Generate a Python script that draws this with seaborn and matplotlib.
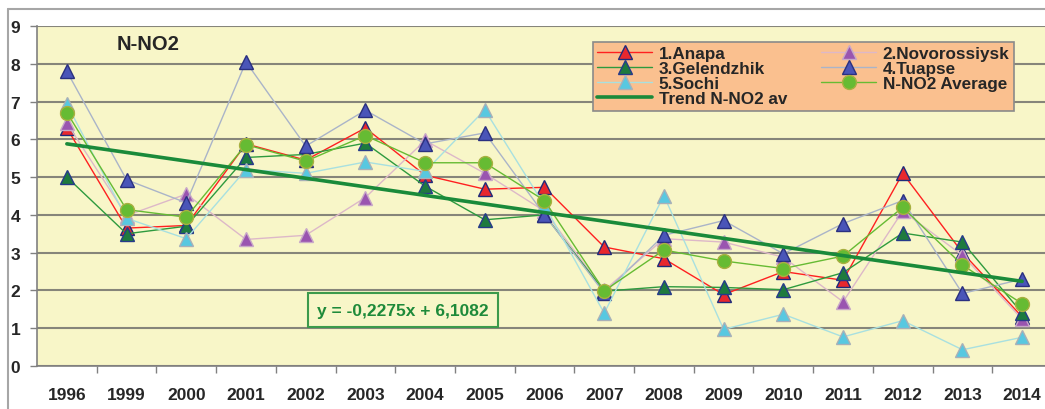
import numpy as np
import pandas as pd
import seaborn as sns
import matplotlib.pyplot as plt
from matplotlib.lines import Line2D

# values (N-NO2)
years = ['1996', '1999', '2000', '2001', '2002', '2003', '2004', '2005', '2006',
         '2007', '2008', '2009', '2010', '2011', '2012', '2013', '2014']
anapa = [6.30, 3.65, 3.72, 5.88, 5.45, 6.30, 5.05, 4.68, 4.73, 3.15, 2.84, 1.89, 2.50, 2.27, 5.10, 3.00, 1.30]
novorossiysk = [6.43, 3.98, 4.55, 3.35, 3.46, 4.46, 5.97, 5.10, 4.10, 2.00, 3.37, 3.28, 2.88, 1.70, 4.10, 2.93, 1.24]
gelendzhik = [5.00, 3.50, 3.70, 5.52, 5.60, 5.90, 4.76, 3.87, 4.00, 1.98, 2.10, 2.08, 2.02, 2.47, 3.52, 3.28, 1.40]
tuapse = [7.80, 4.93, 4.32, 8.05, 5.82, 6.77, 5.88, 6.17, 4.00, 1.93, 3.46, 3.85, 2.97, 3.77, 4.38, 1.92, 2.30]
sochi = [6.93, 3.91, 3.37, 5.20, 5.10, 5.40, 5.15, 6.78, 4.25, 1.40, 4.51, 0.97, 1.37, 0.77, 1.20, 0.43, 0.76]
average = [6.71, 4.14, 3.94, 5.86, 5.42, 6.10, 5.38, 5.38, 4.38, 1.99, 3.07, 2.78, 2.58, 2.91, 4.20, 2.67, 1.65]

# trend equation as printed on the chart (x = 1..17)
trend_slope = -0.2275
trend_intercept = 6.1082

df = pd.DataFrame({'pos': np.arange(len(years)), 'year': years,
                   'anapa': anapa, 'novo': novorossiysk, 'gel': gelendzhik,
                   'tuapse': tuapse, 'sochi': sochi, 'avg': average})
df['trend'] = trend_slope * (df['pos'] + 1) + trend_intercept

sns.set_style('white')
plt.rcParams['font.family'] = ['Liberation Sans', 'DejaVu Sans']

fig = plt.figure(figsize=(10.45, 4.1), dpi=100)
ax = fig.add_axes([37 / 1045, 1 - 367 / 410, 1015 / 1045, 340 / 410])
ax.set_facecolor('#F8F6C8')

# outer chart frame
fig.add_artist(Line2D([8 / 1045, 1.0], [1 - 10 / 410] * 2, transform=fig.transFigure,
                      color='#A6A6A6', lw=1.5))
fig.add_artist(Line2D([8 / 1045] * 2, [0, 1 - 10 / 410], transform=fig.transFigure,
                      color='#A6A6A6', lw=1.5))

series = [
    ('anapa', '1.Anapa', '#FF2020', '^', '#E8282E', '#1F2A7A'),
    ('novo', '2.Novorossiysk', '#DDB8C8', '^', '#9A55B0', '#C8A8C8'),
    ('gel', '3.Gelendzhik', '#2E9A3E', '^', '#1E7A3E', '#263A8A'),
    ('tuapse', '4.Tuapse', '#AAB4C8', '^', '#4A55B8', '#2A3080'),
    ('sochi', '5.Sochi', '#A8E0E0', '^', '#58C8E0', '#A8B0B8'),
    ('avg', 'N-NO2 Average', '#66BB33', 'o', '#66BB33', '#A8B040'),
]
handles = {}
for col, label, lc, mk, mfc, mec in series:
    sns.lineplot(data=df, x='pos', y=col, ax=ax, color=lc, lw=1.0, marker=mk,
                 markersize=10.5 if mk == '^' else 10, markerfacecolor=mfc,
                 markeredgecolor=mec, markeredgewidth=1.0, label=label, legend=False)
    handles[label] = ax.lines[-1]

sns.lineplot(data=df, x='pos', y='trend', ax=ax, color='#1A8A3A', lw=2.6,
             label='Trend N-NO2 av', legend=False)
handles['Trend N-NO2 av'] = ax.lines[-1]

ax.set_xlim(-0.5, 16.5)
ax.set_ylim(0, 9)
ax.set_yticks(range(10))
ax.set_xticks(df['pos'])
ax.set_xticklabels(years)
ax.set_xticks(np.arange(0.5, 16.5, 1), minor=True)
ax.tick_params(axis='x', which='major', length=0, pad=15, labelsize=12.5)
ax.tick_params(axis='x', which='minor', length=5, width=1, color='#808080', direction='out')
ax.tick_params(axis='y', length=5, width=1, color='#808080', direction='out', pad=7, labelsize=12.5)
for t in ax.get_xticklabels() + ax.get_yticklabels():
    t.set_fontweight('bold')
ax.xaxis.set_tick_params(bottom=True, which='both')
ax.yaxis.set_tick_params(left=True)
ax.set_xlabel('')
ax.set_ylabel('')

ax.grid(axis='y', color='#86857A', lw=1.5)
ax.set_axisbelow(True)
for s in ['top', 'right']:
    ax.spines[s].set_visible(False)
ax.spines['left'].set_color('#808080')
ax.spines['bottom'].set_color('#808080')
ax.spines['left'].set_linewidth(1.2)
ax.spines['bottom'].set_linewidth(1.2)

ax.text(0.0788, 0.95, 'N-NO2', transform=ax.transAxes, fontsize=14.5,
        fontweight='bold', va='center', ha='left')

ax.text(0.3606, 0.1647, 'y = -0,2275x + 6,1082', transform=ax.transAxes,
        fontsize=12.5, fontweight='bold', color='#1E8A3A', ha='center', va='center',
        bbox=dict(boxstyle='square,pad=0.55', facecolor='#F8F6C8', edgecolor='#3C9A4C', lw=1.5))

order = ['1.Anapa', '3.Gelendzhik', '5.Sochi', 'Trend N-NO2 av',
         '2.Novorossiysk', '4.Tuapse', 'N-NO2 Average']
leg = ax.legend([handles[k] for k in order], order, ncol=2, loc='upper left',
                bbox_to_anchor=(593 / 1045, 1 - 43 / 410), bbox_transform=fig.transFigure,
                borderaxespad=0, fancybox=False, framealpha=1, facecolor='#FAC08F',
                edgecolor='#8A8A8A', handlelength=3.2, labelspacing=0.0,
                columnspacing=2.0, handletextpad=0.4, borderpad=0.25,
                prop={'weight': 'bold', 'size': 12.3})
leg.get_frame().set_linewidth(1.2)

fig.savefig('out.png', dpi=100)
